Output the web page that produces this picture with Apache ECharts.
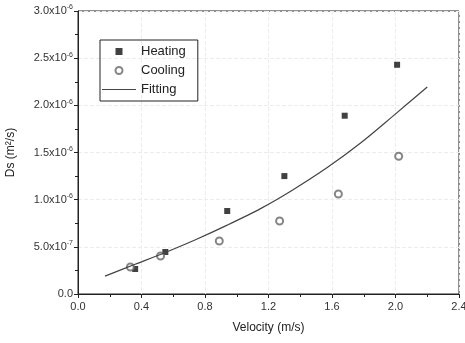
<!DOCTYPE html>
<html>
<head>
<meta charset="utf-8">
<script src="https://cdn.jsdelivr.net/npm/echarts@6/dist/echarts.min.js"></script>
<style>
  html, body { margin: 0; padding: 0; background: #fff; }
  #chart { width: 465px; height: 343px; }
</style>
</head>
<body>
<div id="chart"></div>
<script>
// measured points
const heatingV = [0.36, 0.55, 0.94, 1.30, 1.68, 2.01];
const heatingD = [0.265e-6, 0.445e-6, 0.88e-6, 1.25e-6, 1.89e-6, 2.43e-6];
const coolingV = [0.33, 0.52, 0.89, 1.27, 1.64, 2.02];
const coolingD = [0.286e-6, 0.403e-6, 0.562e-6, 0.774e-6, 1.06e-6, 1.46e-6];
// fitted curve
const fitV = [0.17, 0.36, 0.55, 0.74, 0.94, 1.15, 1.35, 1.57, 1.78, 1.98, 2.20];
const fitD = [0.19e-6, 0.315e-6, 0.44e-6, 0.575e-6, 0.73e-6, 0.905e-6, 1.10e-6, 1.34e-6, 1.60e-6, 1.88e-6, 2.195e-6];

const zip = (a, b) => a.map((v, i) => [v, b[i]]);

const font = '"Liberation Sans", Arial, sans-serif';
const chart = echarts.init(document.getElementById('chart'));

function sciLabel(v) {
  if (v === 0) return '0.0';
  const e = Math.floor(Math.log10(v) + 1e-9);
  const m = v / Math.pow(10, e);
  return m.toFixed(1) + 'x10{sup|' + e + '}';
}

chart.setOption({
  animation: false,
  backgroundColor: '#fff',
  textStyle: { fontFamily: font },
  grid: {
    left: 78, right: 6, top: 11, bottom: 49,
    containLabel: false, outerBoundsMode: 'none',
    show: true, borderColor: '#222', borderWidth: 1
  },
  legend: {
    left: 100, top: 40,
    orient: 'vertical',
    itemWidth: 34, itemHeight: 7, itemGap: 6,
    padding: [5, 12, 5, 2],
    borderColor: '#222', borderWidth: 1,
    textStyle: { fontSize: 13, color: '#222', fontFamily: font },
    data: [
      { name: 'Heating', icon: 'path://M0,0h10v10h-10z' },
      { name: 'Cooling', icon: 'emptyCircle' },
      { name: 'Fitting', icon: 'path://M0,0h40v1h-40z' }
    ]
  },
  xAxis: {
    type: 'value', min: 0, max: 2.4, interval: 0.4,
    name: 'Velocity (m/s)', nameLocation: 'middle', nameGap: 28,
    nameTextStyle: { fontSize: 12, color: '#222' },
    axisLine: { lineStyle: { color: '#222' } },
    axisTick: { length: 4, lineStyle: { color: '#222' } },
    minorTick: { show: true, splitNumber: 2, length: 3, lineStyle: { color: '#222' } },
    axisLabel: { fontSize: 11, color: '#333', margin: 7, formatter: v => v.toFixed(1) },
    splitLine: { show: true, lineStyle: { color: '#ececec', type: 'dashed' } }
  },
  yAxis: {
    type: 'value', min: 0, max: 3e-6, interval: 5e-7,
    name: 'Ds (m²/s)', nameLocation: 'middle', nameGap: 61, nameRotate: 90,
    nameTextStyle: { fontSize: 12, color: '#222' },
    axisLine: { show: true, lineStyle: { color: '#222' } },
    axisTick: { length: 4, lineStyle: { color: '#222' } },
    minorTick: { show: true, splitNumber: 2, length: 3, lineStyle: { color: '#222' } },
    axisLabel: {
      fontSize: 11, color: '#333', margin: 5,
      formatter: sciLabel,
      rich: { sup: { fontSize: 7, verticalAlign: 'top', padding: [0, 0, 7, 0], color: '#333' } }
    },
    splitLine: { show: true, lineStyle: { color: '#ececec', type: 'dashed' } }
  },
  series: [
    {
      name: 'Heating', type: 'scatter', data: zip(heatingV, heatingD),
      symbol: 'rect', symbolSize: 6,
      itemStyle: { color: '#111' }
    },
    {
      name: 'Cooling', type: 'scatter', data: zip(coolingV, coolingD),
      symbol: 'emptyCircle', symbolSize: 7,
      itemStyle: { color: '#666', borderColor: '#666', borderWidth: 1 }
    },
    {
      name: 'Fitting', type: 'line', data: zip(fitV, fitD),
      smooth: 0.3, showSymbol: false, symbol: 'none',
      lineStyle: { color: '#444', width: 1.2 },
      itemStyle: { color: '#444' }
    }
  ]
});
</script>
</body>
</html>
